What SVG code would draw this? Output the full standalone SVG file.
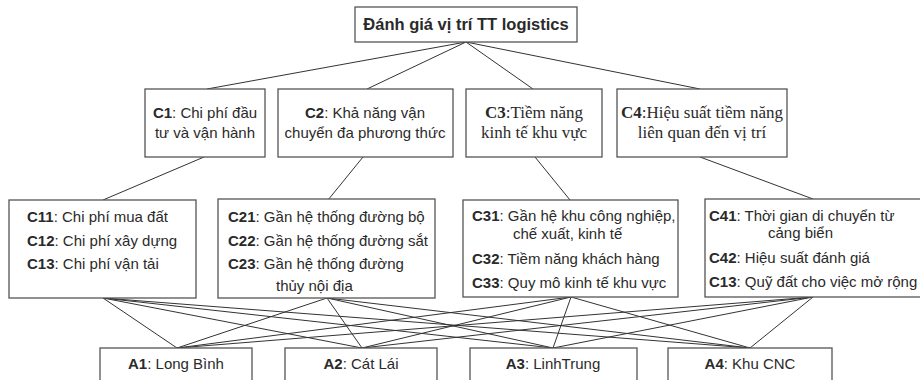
<svg xmlns="http://www.w3.org/2000/svg" width="920" height="380" viewBox="0 0 920 380">
<style>
.box{fill:#fff;stroke:#555;stroke-width:1.3}
.s{font-family:"Liberation Sans",Arial,sans-serif;font-size:15px;fill:#2a2a2a}
.t{font-family:"Liberation Serif","Times New Roman",serif;font-size:17px;fill:#2a2a2a}
.b{font-weight:bold}
.ln{stroke:#333;stroke-width:1;fill:none}
</style>
<rect width="920" height="380" fill="#fff"/>
<g id="connectors" class="ln">
<line x1="466" y1="42" x2="207" y2="89"/>
<line x1="466" y1="42" x2="367" y2="89"/>
<line x1="466" y1="42" x2="533" y2="89"/>
<line x1="466" y1="42" x2="700" y2="89"/>
<line x1="204" y1="157" x2="103" y2="200"/>
<line x1="363" y1="157" x2="328" y2="200"/>
<line x1="535" y1="157" x2="570" y2="200"/>
<line x1="700" y1="157" x2="813" y2="199"/>
<line x1="103" y1="298" x2="177" y2="348"/>
<line x1="103" y1="298" x2="362" y2="348"/>
<line x1="103" y1="298" x2="553" y2="348"/>
<line x1="103" y1="298" x2="750" y2="348"/>
<line x1="327" y1="298" x2="177" y2="348"/>
<line x1="327" y1="298" x2="362" y2="348"/>
<line x1="327" y1="298" x2="553" y2="348"/>
<line x1="327" y1="298" x2="750" y2="348"/>
<line x1="571" y1="297" x2="177" y2="348"/>
<line x1="571" y1="297" x2="362" y2="348"/>
<line x1="571" y1="297" x2="553" y2="348"/>
<line x1="571" y1="297" x2="750" y2="348"/>
<line x1="813" y1="297" x2="177" y2="348"/>
<line x1="813" y1="297" x2="362" y2="348"/>
<line x1="813" y1="297" x2="553" y2="348"/>
<line x1="813" y1="297" x2="750" y2="348"/>
</g>
<g id="root">
<rect class="box" x="355" y="7" width="222" height="35"/>
<text class="s b" x="466" y="30" text-anchor="middle" style="font-size:16.5px">Đánh giá vị trí TT logistics</text>
</g>
<g id="C1">
<rect class="box" x="145" y="89" width="120" height="68"/>
<text class="s" x="205" y="118" text-anchor="middle"><tspan class="b">C1</tspan>: Chi phí đầu</text>
<text class="s" x="205" y="138" text-anchor="middle">tư và vận hành</text>
</g>
<g id="C2">
<rect class="box" x="278" y="89" width="175" height="68"/>
<text class="s" x="365" y="118" text-anchor="middle"><tspan class="b">C2</tspan>: Khả năng vận</text>
<text class="s" x="365" y="138" text-anchor="middle">chuyển đa phương thức</text>
</g>
<g id="C3">
<rect class="box" x="466" y="89" width="136" height="68"/>
<text class="t" x="534" y="118" text-anchor="middle"><tspan class="b">C3</tspan>:Tiềm năng</text>
<text class="t" x="534" y="138" text-anchor="middle">kinh tế khu vực</text>
</g>
<g id="C4">
<rect class="box" x="617" y="89" width="170" height="68"/>
<text class="t" x="702" y="118" text-anchor="middle"><tspan class="b">C4</tspan>:Hiệu suất tiềm năng</text>
<text class="t" x="702" y="138" text-anchor="middle">liên quan đến vị trí</text>
</g>
<g id="C1x">
<rect class="box" x="9" y="200" width="187" height="98"/>
<text class="s" x="27" y="222"><tspan class="b">C11</tspan>: Chi phí mua đất</text>
<text class="s" x="27" y="246"><tspan class="b">C12</tspan>: Chi phí xây dựng</text>
<text class="s" x="27" y="269"><tspan class="b">C13</tspan>: Chi phí vận tải</text>
</g>
<g id="C2x">
<rect class="box" x="218" y="199" width="217" height="99"/>
<text class="s" x="228" y="222"><tspan class="b">C21</tspan>: Gần hệ thống đường bộ</text>
<text class="s" x="228" y="246"><tspan class="b">C22</tspan>: Gần hệ thống đường sắt</text>
<text class="s" x="228" y="269"><tspan class="b">C23</tspan>: Gần hệ thống đường</text>
<text class="s" x="276" y="291">thủy nội địa</text>
</g>
<g id="C3x">
<rect class="box" x="463" y="200" width="215" height="97"/>
<text class="s" x="472" y="221"><tspan class="b">C31</tspan>: Gần hệ khu công nghiệp,</text>
<text class="s" x="513" y="239">chế xuất, kinh tế</text>
<text class="s" x="472" y="264"><tspan class="b">C32</tspan>: Tiềm năng khách hàng</text>
<text class="s" x="472" y="288"><tspan class="b">C33</tspan>: Quy mô kinh tế khu vực</text>
</g>
<g id="C4x">
<rect class="box" x="705" y="199" width="220" height="98"/>
<text class="s" x="709" y="221"><tspan class="b">C41</tspan>: Thời gian di chuyển từ</text>
<text class="s" x="768" y="238">cảng biển</text>
<text class="s" x="709" y="263"><tspan class="b">C42</tspan>: Hiệu suất đánh giá</text>
<text class="s" x="709" y="287"><tspan class="b">C13</tspan>: Quỹ đất cho việc mở rộng</text>
</g>
<g id="A1">
<rect class="box" x="100" y="348" width="152" height="40"/>
<text class="s" x="176" y="369" text-anchor="middle"><tspan class="b">A1</tspan>: Long Bình</text>
</g>
<g id="A2">
<rect class="box" x="285" y="348" width="152" height="40"/>
<text class="s" x="361" y="369" text-anchor="middle"><tspan class="b">A2</tspan>: Cát Lái</text>
</g>
<g id="A3">
<rect class="box" x="470" y="348" width="167" height="40"/>
<text class="s" x="553" y="369" text-anchor="middle"><tspan class="b">A3</tspan>: LinhTrung</text>
</g>
<g id="A4">
<rect class="box" x="668" y="348" width="164" height="40"/>
<text class="s" x="750" y="369" text-anchor="middle"><tspan class="b">A4</tspan>: Khu CNC</text>
</g>
</svg>
